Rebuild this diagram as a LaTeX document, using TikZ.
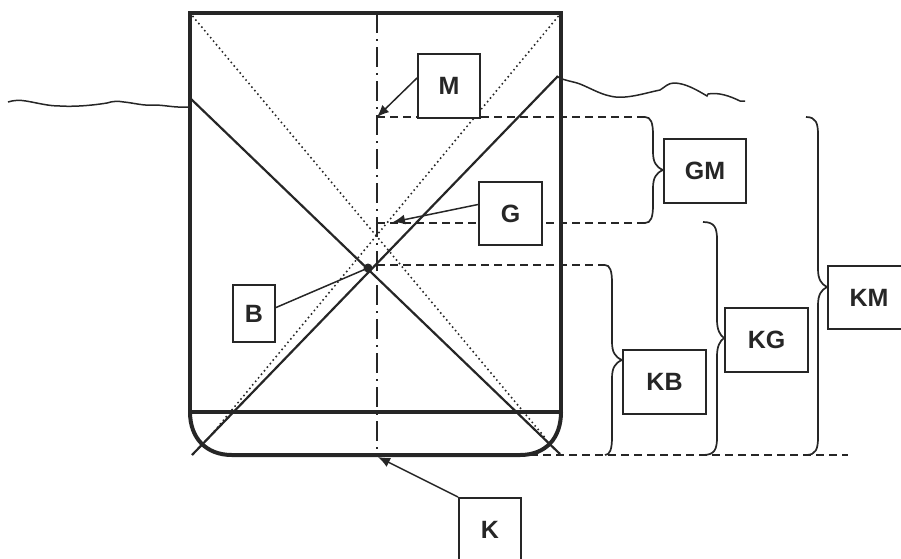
\documentclass[tikz,border=0pt]{standalone}
\usepackage{fontspec}
\setmainfont{Liberation Sans}
\usetikzlibrary{arrows.meta}
\tikzset{
  labelbox/.style={draw=black!85,line width=2pt,anchor=north west,inner sep=0pt,fill=white,font=\fontsize{25}{25}\selectfont\bfseries,text=black!85},
  hullline/.style={line width=4pt,black!85},
  pointer/.style={line width=1.5pt,black!85,-{Latex[length=12pt,width=10pt]}},
  dashline/.style={line width=2pt,dash pattern=on 8pt off 5pt,black!85},
  braceline/.style={line width=1.7pt,black!85},
  waveline/.style={line width=1.5pt,black!85},
  dotline/.style={line width=2.2pt,black!85,line cap=round,dash pattern=on 0pt off 4.6pt}
}
\begin{document}
\begin{tikzpicture}[x=1pt,y=-1pt]
\useasboundingbox (0,0) rectangle (901,558);
% hull
\draw[hullline,line cap=round] (190,412) -- (190,13) -- (561,13) -- (561,412);
\draw[hullline] (190,412) -- (561,412);
\draw[hullline] (190,412) .. controls (190,438) and (206,455) .. (232,455) -- (520,455) .. controls (546,455) and (561,438) .. (561,412);
% centre line and diagonals
\draw[line width=2pt,black!85,dash pattern=on 20pt off 6pt on 2pt off 6pt] (377,13) -- (377,455);
\draw[line width=2.2pt,black!85] (190,98) -- (560,454);
\draw[line width=2.2pt,black!85] (192,455) -- (558,76);
\draw[dotline] (190,13) -- (547,440);
\draw[dotline] (561,13) -- (207,440);
\fill[black!85] (368,268) circle (4.5pt);
% water
\draw[waveline] (8,102) .. controls (14,100) and (20,100) .. (26,101) .. controls (38,103) and (48,106) .. (60,106) .. controls (76,107) and (95,105) .. (107,103) .. controls (113,101) and (118,101) .. (124,102) .. controls (134,103) and (144,106) .. (154,105) .. controls (165,105) and (175,108) .. (190,107);
\draw[waveline] (558,77) .. controls (565,81) and (572,81) .. (580,84) .. controls (590,88) and (600,94) .. (610,96) .. controls (625,100) and (645,93) .. (660,90) .. controls (665,87) and (668,83) .. (674,83) .. controls (685,83) and (697,90) .. (707,96) -- (708,94) .. controls (718,92) and (730,96) .. (740,101) -- (745,101);
% dashed levels
\coordinate (mpt) at (377,117);
\coordinate (gpt) at (393,222);
\coordinate (bpt) at (368,268);
\coordinate (kpt) at (378,457);
\draw[dashline] (mpt) -- (645,117);
\draw[dashline] (377,223) -- (645,223);
\draw[dashline] (377,265) -- (605,265);
\draw[dashline] (530,455) -- (848,455);
% braces
\foreach \xa/\xb/\xc/\ya/\yb/\yc in {645/653/663/117/170/223,605/612/622/265/360/455,703/717/724/222/338/455,806/818/827/117/287/455}
{
\draw[braceline] (\xa,\ya) .. controls (\xb-2,\ya) and (\xb,\ya+6) .. (\xb,\ya+18) -- (\xb,\yb-18) .. controls (\xb,\yb-8) and (\xb+3,\yb-3) .. (\xc,\yb) .. controls (\xb+3,\yb+3) and (\xb,\yb+8) .. (\xb,\yb+18) -- (\xb,\yc-18) .. controls (\xb,\yc-6) and (\xb-2,\yc) .. (\xa,\yc);
}
% boxes
\node[labelbox,minimum width=62pt,minimum height=64pt] (M) at (417,53) {M};
\node[labelbox,minimum width=63pt,minimum height=63pt] (G) at (478,181) {G};
\node[labelbox,minimum width=42pt,minimum height=57pt] (B) at (232,284) {B};
\node[labelbox,minimum width=62pt,minimum height=64pt] (K) at (458,497) {K};
\node[labelbox,minimum width=82pt,minimum height=64pt] (GM) at (663,138) {GM};
\node[labelbox,minimum width=83pt,minimum height=64pt] (KB) at (622,349) {KB};
\node[labelbox,minimum width=83pt,minimum height=64pt] (KG) at (724,307) {KG};
\node[labelbox,minimum width=82pt,minimum height=63pt] (KM) at (827,265) {KM};
% pointers
\draw[pointer] ([yshift=8pt]M.west) -- (mpt);
\draw[pointer] ([yshift=9pt]G.west) -- (gpt);
\draw[line width=1.5pt,black!85] ([yshift=6pt]B.east) -- (bpt);
\draw[pointer] (K.north west) -- (kpt);
\end{tikzpicture}
\end{document}
